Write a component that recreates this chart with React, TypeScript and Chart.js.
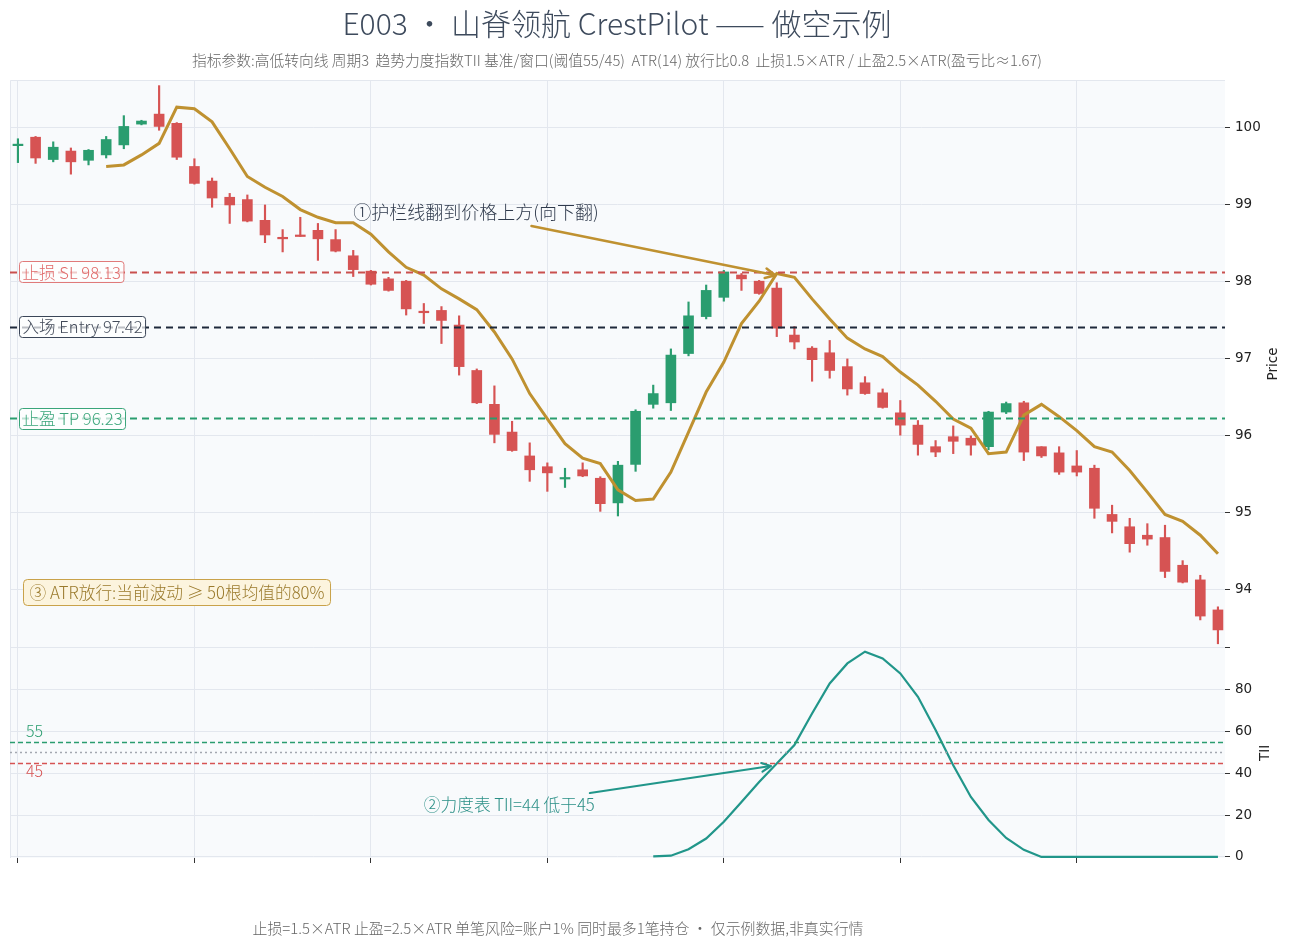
import React, { useEffect, useRef } from 'react';
import { Chart, registerables } from 'chart.js';

Chart.register(...registerables);

// ---------- data ----------
const opens = [99.77, 99.88, 99.59, 99.70, 99.58, 99.65, 99.78, 100.05, 100.18, 100.06,
  99.50, 99.31, 99.10, 99.07, 98.80, 98.58, 98.61, 98.67, 98.55, 98.34,
  98.14, 98.04, 98.01, 97.62, 97.63, 97.44, 96.85, 96.41, 96.05, 95.74,
  95.60, 95.44, 95.56, 95.45, 95.13, 95.63, 96.41, 96.43, 97.07, 97.55,
  97.80, 98.09, 98.01, 97.92, 97.31, 97.14, 97.08, 96.90, 96.69, 96.56,
  96.30, 96.14, 95.86, 95.99, 95.97, 95.86, 96.31, 96.43, 95.86, 95.78,
  95.61, 95.58, 94.98, 94.82, 94.71, 94.68, 94.32, 94.13, 93.74];
const highs = [99.86, 99.89, 99.82, 99.74, 99.72, 99.89, 100.16, 100.10, 100.55, 100.07,
  99.60, 99.35, 99.15, 99.13, 99.00, 98.68, 98.84, 98.76, 98.68, 98.41,
  98.15, 98.06, 98.02, 97.72, 97.68, 97.56, 96.87, 96.65, 96.19, 95.91,
  95.65, 95.58, 95.65, 95.47, 95.67, 96.34, 96.66, 97.13, 97.74, 97.96,
  98.15, 98.11, 98.02, 97.99, 97.42, 97.16, 97.24, 97.00, 96.77, 96.61,
  96.46, 96.20, 95.94, 96.13, 96.00, 96.32, 96.44, 96.45, 95.86, 95.86,
  95.81, 95.62, 95.10, 94.93, 94.86, 94.84, 94.38, 94.19, 93.78];
const lows = [99.55, 99.54, 99.56, 99.40, 99.52, 99.61, 99.73, 100.04, 99.97, 99.59,
  99.27, 98.97, 98.76, 98.78, 98.51, 98.39, 98.59, 98.28, 98.39, 98.07,
  97.96, 97.88, 97.57, 97.46, 97.20, 96.79, 96.42, 95.91, 95.80, 95.41,
  95.28, 95.33, 95.47, 95.02, 94.96, 95.54, 96.36, 96.33, 97.04, 97.52,
  97.75, 97.89, 97.84, 97.29, 97.13, 96.71, 96.75, 96.53, 96.54, 96.36,
  96.01, 95.75, 95.73, 95.77, 95.75, 95.82, 96.29, 95.68, 95.72, 95.50,
  95.48, 94.93, 94.74, 94.49, 94.58, 94.16, 94.09, 93.61, 93.30];
const closes = [99.79, 99.61, 99.75, 99.56, 99.71, 99.85, 100.02, 100.09, 100.02, 99.62,
  99.28, 99.09, 99.00, 98.79, 98.61, 98.56, 98.59, 98.56, 98.40, 98.16,
  97.97, 97.89, 97.65, 97.60, 97.50, 96.90, 96.43, 96.02, 95.81, 95.56,
  95.52, 95.46, 95.48, 95.12, 95.62, 96.32, 96.55, 97.05, 97.56, 97.89,
  98.13, 98.04, 97.85, 97.40, 97.22, 96.99, 96.85, 96.61, 96.55, 96.37,
  96.14, 95.89, 95.79, 95.93, 95.88, 96.31, 96.42, 95.79, 95.74, 95.53,
  95.53, 95.06, 94.89, 94.60, 94.66, 94.24, 94.10, 93.66, 93.48];
// 护栏线 (guardrail line)
const guard: (number | null)[] = [null, null, null, null, null, 99.50, 99.52, 99.65, 99.80, 100.27,
  100.25, 100.08, 99.73, 99.37, 99.23, 99.11, 98.94, 98.84, 98.77, 98.77,
  98.62, 98.39, 98.19, 98.09, 97.91, 97.78, 97.64, 97.35, 97.00, 96.55,
  96.22, 95.90, 95.71, 95.64, 95.30, 95.16, 95.18, 95.53, 96.05, 96.57,
  96.96, 97.46, 97.75, 98.11, 98.06, 97.78, 97.52, 97.27, 97.13, 97.03,
  96.83, 96.66, 96.45, 96.22, 96.10, 95.77, 95.79, 96.27, 96.41, 96.25,
  96.07, 95.86, 95.79, 95.55, 95.27, 94.98, 94.89, 94.71, 94.47];
// 趋势力度指数 TII
const tii: (number | null)[] = [null, null, null, null, null, null, null, null, null, null,
  null, null, null, null, null, null, null, null, null, null,
  null, null, null, null, null, null, null, null, null, null,
  null, null, null, null, null, null, 0.3, 0.6, 3.7, 8.8,
  16.8, 26.3, 35.9, 44.7, 53.5, 68.6, 83.0, 92.6, 98.2, 95.0,
  87.8, 76.6, 60.7, 43.9, 28.7, 17.7, 9.1, 3.4, 0, 0,
  0, 0, 0, 0, 0, 0, 0, 0, 0];

const xTicks = [0, 10, 20, 30, 40, 50, 60];
const priceTicks = [94, 95, 96, 97, 98, 99, 100];
const tiiTicks = [0, 20, 40, 60, 80, 100];

const levelNames = ['止损 SL', '入场 Entry', '止盈 TP'];
const levelValues = [98.13, 97.42, 96.23];
const tiiLevels = [55, 50, 45];

const annoTexts = ['①护栏线翻到价格上方(向下翻)', '②力度表 TII=44 低于45', '③ ATR放行:当前波动 ≥ 50根均值的80%'];
// annotation anchors in data coordinates: [textX, textY, arrowFromX, arrowFromY, arrowToX, arrowToY]
const anno1 = [19.0, 98.90, 29.1, 98.727, 42.92, 98.087];
const anno2 = [23.0, 24.9, 32.41, 30.6, 42.66, 43.5];
const anno3 = [0.28, 93.97];

const TITLE = 'E003 · 山脊领航 CrestPilot —— 做空示例';
const SUBTITLE = '指标参数:高低转向线 周期3  趋势力度指数TII 基准/窗口(阈值55/45)  ATR(14) 放行比0.8  止损1.5×ATR / 止盈2.5×ATR(盈亏比≈1.67)';
const FOOTER = '止损=1.5×ATR 止盈=2.5×ATR 单笔风险=账户1% 同时最多1笔持仓 · 仅示例数据,非真实行情';

// ---------- styles ----------
const UP = '#2a9d6f';
const DOWN = '#d65353';
const GOLD = '#bf9130';
const TEAL = '#21968a';
const GRID = '#e3e7ee';
const CJK = '"Noto Sans CJK SC", "Noto Sans", sans-serif';
const levelLine = ['#c9504e', '#1e293b', '#2a9d6f'];
const levelText = ['#e06a6a', '#434b5a', '#3aa57a'];
const levelBorder = ['#e07a7a', '#3b4658', '#3aa57a'];
const tiiLevelColor = ['#2a9d6f', '#a3a8b0', '#d65353'];

function drawArrow(ctx: CanvasRenderingContext2D, x1: number, y1: number, x2: number, y2: number, color: string, w: number, head: number) {
  const a = Math.atan2(y2 - y1, x2 - x1);
  ctx.save();
  ctx.strokeStyle = color;
  ctx.lineWidth = w;
  ctx.lineCap = 'round';
  ctx.lineJoin = 'round';
  ctx.setLineDash([]);
  ctx.beginPath();
  ctx.moveTo(x1, y1);
  ctx.lineTo(x2, y2);
  ctx.stroke();
  ctx.beginPath();
  ctx.moveTo(x2 - head * Math.cos(a - 0.45), y2 - head * Math.sin(a - 0.45));
  ctx.lineTo(x2, y2);
  ctx.lineTo(x2 - head * Math.cos(a + 0.45), y2 - head * Math.sin(a + 0.45));
  ctx.stroke();
  ctx.restore();
}

function roundRect(ctx: CanvasRenderingContext2D, x: number, y: number, w: number, h: number, r: number) {
  ctx.beginPath();
  ctx.moveTo(x + r, y);
  ctx.lineTo(x + w - r, y);
  ctx.quadraticCurveTo(x + w, y, x + w, y + r);
  ctx.lineTo(x + w, y + h - r);
  ctx.quadraticCurveTo(x + w, y + h, x + w - r, y + h);
  ctx.lineTo(x + r, y + h);
  ctx.quadraticCurveTo(x, y + h, x, y + h - r);
  ctx.lineTo(x, y + r);
  ctx.quadraticCurveTo(x, y, x + r, y);
  ctx.closePath();
}

const bgPlugin = {
  id: 'bgPlugin',
  beforeDraw(chart: any) {
    const { ctx, chartArea: a } = chart;
    ctx.save();
    ctx.fillStyle = '#f8fafc';
    ctx.fillRect(a.left, a.top, a.right - a.left, a.bottom - a.top);
    ctx.strokeStyle = GRID;
    ctx.lineWidth = 1;
    ctx.beginPath();
    ctx.moveTo(a.left + 0.5, a.bottom);
    ctx.lineTo(a.left + 0.5, a.top + 0.5);
    ctx.lineTo(a.right, a.top + 0.5);
    ctx.stroke();
    ctx.restore();
  },
};

const overlayPlugin = {
  id: 'overlayPlugin',
  afterDatasetsDraw(chart: any) {
    const { ctx, chartArea: a, scales } = chart;
    const xs = scales.x, ys = scales.y, y2 = scales.y2;
    ctx.save();
    // price level lines
    levelValues.forEach((v, i) => {
      const py = Math.round(ys.getPixelForValue(v)) + 0.5;
      ctx.strokeStyle = levelLine[i];
      ctx.lineWidth = 2;
      ctx.setLineDash([7, 5]);
      ctx.beginPath();
      ctx.moveTo(a.left, py);
      ctx.lineTo(a.right, py);
      ctx.stroke();
    });
    // TII threshold lines
    tiiLevels.forEach((v, i) => {
      const py = Math.round(y2.getPixelForValue(v)) + 0.5;
      ctx.strokeStyle = tiiLevelColor[i];
      ctx.lineWidth = 1.3;
      ctx.setLineDash(i === 1 ? [2, 3] : [5, 3]);
      ctx.beginPath();
      ctx.moveTo(a.left, py);
      ctx.lineTo(a.right, py);
      ctx.stroke();
    });
    ctx.setLineDash([]);
    // TII threshold labels
    ctx.font = `300 16px ${CJK}`;
    ctx.textAlign = 'left';
    ctx.textBaseline = 'middle';
    ctx.fillStyle = tiiLevelColor[0];
    ctx.fillText(String(tiiLevels[0]), a.left + 16, y2.getPixelForValue(tiiLevels[0]) - 11);
    ctx.fillStyle = tiiLevelColor[2];
    ctx.fillText(String(tiiLevels[2]), a.left + 16, y2.getPixelForValue(tiiLevels[2]) + 8);

    // level label boxes
    ctx.font = `300 16.6px ${CJK}`;
    levelValues.forEach((v, i) => {
      const py = ys.getPixelForValue(v);
      const txt = `${levelNames[i]} ${v.toFixed(2)}`;
      const w = ctx.measureText(txt).width + 6;
      const bx = a.left + 9.5, by = Math.round(py - 10.5) + 0.5;
      roundRect(ctx, bx, by, w, 21, 3);
      ctx.fillStyle = 'rgba(255,255,255,0.7)';
      ctx.fill();
      ctx.strokeStyle = levelBorder[i];
      ctx.lineWidth = 1;
      ctx.stroke();
      ctx.fillStyle = levelText[i];
      ctx.textBaseline = 'middle';
      ctx.fillText(txt, bx + 3, py + 0.5);
    });

    // annotation 1
    ctx.font = `300 18px ${CJK}`;
    ctx.fillStyle = '#2f3a4c';
    ctx.textBaseline = 'middle';
    ctx.fillText(annoTexts[0], xs.getPixelForValue(anno1[0]), ys.getPixelForValue(anno1[1]));
    drawArrow(ctx, xs.getPixelForValue(anno1[2]), ys.getPixelForValue(anno1[3]),
      xs.getPixelForValue(anno1[4]), ys.getPixelForValue(anno1[5]), GOLD, 2.5, 11);

    // annotation 2
    ctx.font = `300 16.7px ${CJK}`;
    ctx.fillStyle = '#2a8f86';
    ctx.fillText(annoTexts[1], xs.getPixelForValue(anno2[0]), y2.getPixelForValue(anno2[1]));
    drawArrow(ctx, xs.getPixelForValue(anno2[2]), y2.getPixelForValue(anno2[3]),
      xs.getPixelForValue(anno2[4]), y2.getPixelForValue(anno2[5]), TEAL, 2.2, 10);

    // annotation 3 box
    ctx.font = `300 16.7px ${CJK}`;
    const t3 = annoTexts[2];
    const w3 = ctx.measureText(t3).width + 12;
    const bx3 = Math.round(xs.getPixelForValue(anno3[0])) + 0.5;
    const cy3 = ys.getPixelForValue(anno3[1]);
    roundRect(ctx, bx3, Math.round(cy3 - 13) + 0.5, w3, 26, 4);
    ctx.fillStyle = '#fcf4de';
    ctx.fill();
    ctx.strokeStyle = '#c9a24a';
    ctx.lineWidth = 1;
    ctx.stroke();
    ctx.fillStyle = '#9a7a2c';
    ctx.fillText(t3, bx3 + 6, cy3 + 0.5);

    ctx.restore();
  },
  afterDraw(chart: any) {
    const { ctx, scales } = chart;
    const titles: [string, number, number][] = [
      ['Price', 1273, (scales.y.top + scales.y.bottom) / 2],
      ['TII', 1265, (scales.y2.top + scales.y2.bottom) / 2],
    ];
    titles.forEach(([t, x, y]) => {
      ctx.save();
      ctx.font = '13.5px "DejaVu Sans", sans-serif';
      ctx.fillStyle = '#222';
      ctx.textAlign = 'center';
      ctx.textBaseline = 'middle';
      ctx.translate(x, y);
      ctx.rotate(-Math.PI / 2);
      ctx.fillText(t, 0, 0);
      ctx.restore();
    });
  },
};

export default function App() {
  const ref = useRef<HTMLCanvasElement>(null);

  useEffect(() => {
    if (!ref.current) return;
    const idx = opens.map((_, i) => i);
    const colors = idx.map((i) => (closes[i] >= opens[i] ? UP : DOWN));
    const tickFont = { family: '"DejaVu Sans", sans-serif', size: 13.5 };
    const chart = new Chart(ref.current, {
      type: 'bar',
      data: {
        datasets: [
          {
            type: 'line',
            label: '护栏线',
            data: idx.map((i) => ({ x: i, y: guard[i] })),
            yAxisID: 'y',
            borderColor: GOLD,
            borderWidth: 3,
            pointRadius: 0,
            tension: 0,
            order: 0,
          } as any,
          {
            type: 'line',
            label: 'TII',
            data: idx.map((i) => ({ x: i, y: tii[i] })),
            yAxisID: 'y2',
            borderColor: TEAL,
            borderWidth: 2.2,
            pointRadius: 0,
            tension: 0,
            order: 0,
          } as any,
          {
            type: 'bar',
            label: 'body',
            data: idx.map((i) => ({ x: i, y: [opens[i], closes[i]] })),
            yAxisID: 'y',
            backgroundColor: colors,
            barThickness: 10,
            grouped: false,
            borderWidth: 0,
            order: 1,
          } as any,
          {
            type: 'bar',
            label: 'wick',
            data: idx.map((i) => ({ x: i, y: [lows[i], highs[i]] })),
            yAxisID: 'y',
            backgroundColor: colors,
            barThickness: 1.5,
            grouped: false,
            borderWidth: 0,
            order: 2,
          } as any,
        ],
      },
      options: {
        responsive: false,
        devicePixelRatio: 1,
        animation: false,
        layout: { padding: { left: 10, top: 80, right: 0, bottom: 82 } },
        plugins: { legend: { display: false }, tooltip: { enabled: false }, title: { display: false } },
        scales: {
          x: {
            type: 'linear',
            min: -0.45,
            max: 68.4,
            offset: false,
            afterBuildTicks: (s: any) => { s.ticks = xTicks.map((v) => ({ value: v })); },
            afterFit: (s: any) => { s.height = 8; },
            ticks: { callback: () => '', font: tickFont },
            grid: { color: GRID, tickColor: '#333', tickLength: 5, drawTicks: true, offset: false },
            border: { display: false },
          },
          y: {
            type: 'linear',
            position: 'right',
            stack: 'panels',
            stackWeight: 0.73,
            min: 93.246,
            max: 100.623,
            afterBuildTicks: (s: any) => { s.ticks = priceTicks.map((v) => ({ value: v })); },
            afterFit: (s: any) => { s.width = 66; },
            ticks: { font: tickFont, color: '#222', padding: 5, callback: (v: any) => String(v) },
            grid: { color: GRID, tickColor: '#333', tickLength: 5 },
            border: { display: false },
          },
          y2: {
            type: 'linear',
            position: 'right',
            stack: 'panels',
            stackWeight: 0.27,
            min: -0.5,
            max: 100,
            afterBuildTicks: (s: any) => { s.ticks = tiiTicks.map((v) => ({ value: v })); },
            afterFit: (s: any) => { s.width = 66; },
            ticks: { font: tickFont, color: '#222', padding: 5, callback: (v: any) => (v === 100 ? '' : String(v)) },
            grid: { color: GRID, tickColor: '#333', tickLength: 5 },
            border: { display: false },
          },
        },
      } as any,
      plugins: [bgPlugin, overlayPlugin],
    });
    return () => chart.destroy();
  }, []);

  return (
    <div style={{ position: 'fixed', left: 0, top: 0, width: 1291, height: 948, background: '#fff', overflow: 'hidden' }}>
      <canvas ref={ref} width={1291} height={948} style={{ position: 'absolute', left: 0, top: 0, width: 1291, height: 948 }} />
      <div style={{ position: 'absolute', left: 0, top: 3, width: 1234, textAlign: 'center', fontFamily: CJK, fontSize: 30, fontWeight: 300, lineHeight: '38px', color: '#3d4a5c', whiteSpace: 'pre' }}>{TITLE}</div>
      <div style={{ position: 'absolute', left: 0, top: 51, width: 1234, textAlign: 'center', fontFamily: CJK, fontSize: 14.75, fontWeight: 300, lineHeight: '18px', color: '#666', whiteSpace: 'pre' }}>{SUBTITLE}</div>
      <div style={{ position: 'absolute', left: 0, top: 919, width: 1116, textAlign: 'center', fontFamily: CJK, fontSize: 14.9, fontWeight: 300, lineHeight: '18px', color: '#666', whiteSpace: 'pre' }}>{FOOTER}</div>
    </div>
  );
}
